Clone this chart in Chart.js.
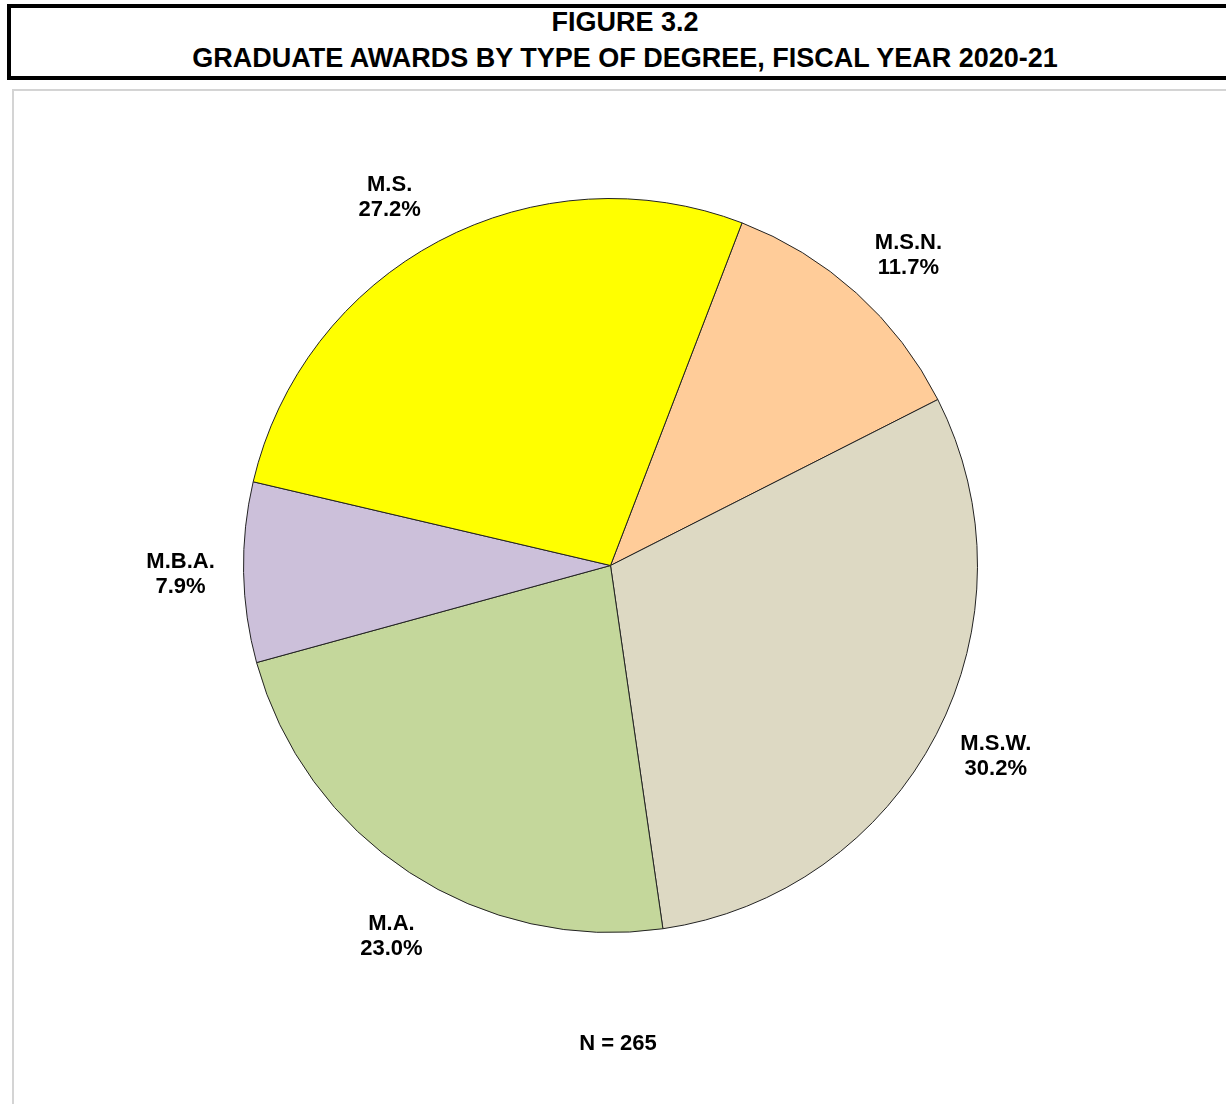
<!DOCTYPE html>
<html>
<head>
<meta charset="utf-8">
<script src="https://cdn.jsdelivr.net/npm/chart.js@4"></script>
<style>
  html, body { margin: 0; padding: 0; background: #fff; overflow: hidden; }
  body { width: 1226px; height: 1104px; position: relative; font-family: "Liberation Sans", Arial, sans-serif; }
  .title-box {
    position: absolute; left: 7px; top: 4px; width: 1240px; height: 68px;
    border: 4px solid #000;
  }
  .title-box div {
    position: absolute; left: 0; width: 1228px; font-weight: bold; font-size: 27px;
    line-height: 30px; text-align: center;
  }
  .frame {
    position: absolute; left: 12px; top: 89px; width: 1240px; height: 1040px;
    border: 2px solid #d4d4d4;
  }
  #pieChart { position: absolute; left: 0; top: 0; }
  .note {
    position: absolute; left: 0; width: 1236px; top: 1030px; line-height: 26px;
    text-align: center; font-weight: bold; font-size: 22px;
  }
</style>
</head>
<body>
<div class="title-box">
  <div style="top: -1px;">FIGURE 3.2</div>
  <div style="top: 35px;">GRADUATE AWARDS BY TYPE OF DEGREE, FISCAL YEAR 2020-21</div>
</div>
<div class="frame"></div>
<canvas id="pieChart" width="1226" height="1104"></canvas>
<div class="note">N = 265</div>

<script>
// degree types, clockwise starting at the M.S./M.S.N. boundary
const degrees = ['M.S.N.', 'M.S.W.', 'M.A.', 'M.B.A.', 'M.S.'];
const awards = [31, 80, 61, 21, 72];
const percentLabels = ['11.7%', '30.2%', '23.0%', '7.9%', '27.2%'];
const sliceColors = ['#FFCC99', '#DDD9C3', '#C4D79B', '#CCC0DA', '#FFFF00'];

// small angle nudges (degrees) so labels sit where the original had them
const labelNudge = [1.8, -1.1, -2.6, 0, -3];

// draw "name / percent" outside each slice
const outsideLabels = {
  id: 'outsideLabels',
  afterDatasetsDraw(chart) {
    const ctx = chart.ctx;
    const arcs = chart.getDatasetMeta(0).data;
    ctx.save();
    ctx.font = 'bold 22px "Liberation Sans", Arial, sans-serif';
    ctx.fillStyle = '#000';
    ctx.textAlign = 'center';
    ctx.textBaseline = 'middle';
    arcs.forEach((arc, i) => {
      const mid = (arc.startAngle + arc.endAngle) / 2 + labelNudge[i] * Math.PI / 180;
      const r = arc.outerRadius + 63;
      const x = arc.x + Math.cos(mid) * r;
      const y = arc.y + Math.sin(mid) * r;
      ctx.fillText(degrees[i], x, y - 12);
      ctx.fillText(percentLabels[i], x, y + 13);
    });
    ctx.restore();
  }
};

new Chart(document.getElementById('pieChart'), {
  type: 'pie',
  data: {
    labels: degrees,
    datasets: [{
      data: awards,
      backgroundColor: sliceColors,
      borderColor: '#222',
      borderWidth: 1
    }]
  },
  options: {
    responsive: false,
    animation: false,
    rotation: 21,
    layout: { padding: { left: 243, right: 248, top: 198, bottom: 171 } },
    plugins: {
      legend: { display: false },
      tooltip: { enabled: false }
    }
  },
  plugins: [outsideLabels]
});
</script>
</body>
</html>
